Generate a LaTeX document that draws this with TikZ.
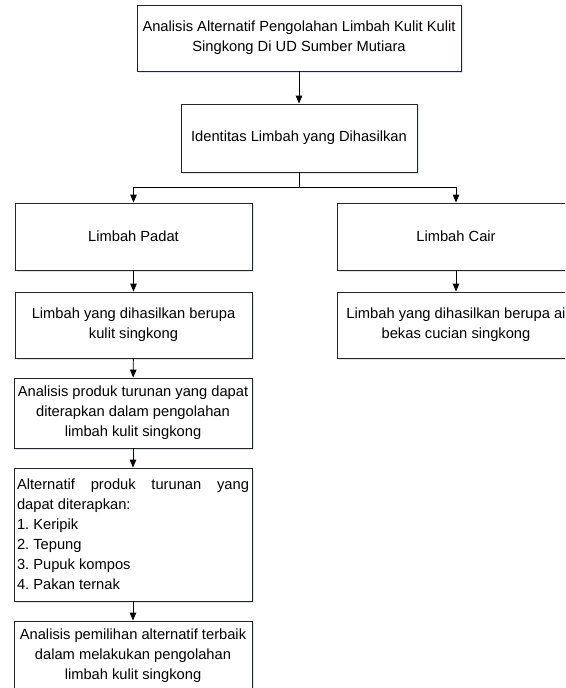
\documentclass[tikz,border=0pt]{standalone}
\usepackage{fontspec}
\setmainfont{Liberation Sans}
\usetikzlibrary{arrows.meta,shadows}
\definecolor{shadowblue}{HTML}{D5DFEA}
\frenchspacing
\begin{document}
\begin{tikzpicture}[x=1pt,y=-1pt,
  box/.style={draw=black!85, line width=0.9pt, fill=white, inner sep=2pt,
    align=center, font=\fontsize{14.7}{20}\selectfont,
    drop shadow={shadow xshift=2pt, shadow yshift=-2pt, fill=shadowblue, opacity=0.8}},
  arr/.style={draw=black, line width=0.9pt, -{Triangle[width=6.5pt,length=8pt]}},
  ln/.style={draw=black, line width=0.9pt}]
\useasboundingbox (0,0) rectangle (565,688);
\clip (0,0) rectangle (565,688);
\fill[white] (0,0) rectangle (565,688);
\node[box, minimum width=324pt, minimum height=66pt] (top) at (299,38)
  {Analisis Alternatif Pengolahan Limbah Kulit Kulit\\Singkong Di UD Sumber Mutiara};
\node[box, minimum width=236pt, minimum height=68pt] (ident) at (299,138)
  {Identitas Limbah yang Dihasilkan};
\node[box, minimum width=237pt, minimum height=67pt] (padat) at (133.5,236.5)
  {Limbah Padat};
\node[box, minimum width=238pt, minimum height=67pt] (cair) at (456,236.5)
  {Limbah Cair};
\node[box, minimum width=237pt, minimum height=66pt] (kulit) at (133.5,325)
  {Limbah yang dihasilkan berupa\\kulit singkong};
\node[box, minimum width=238pt, minimum height=66pt] (air) at (456,325)
  {Limbah yang dihasilkan berupa ai\\bekas cucian singkong};
\node[box, minimum width=238pt, minimum height=70pt] (anal) at (133,413)
  {Analisis produk turunan yang dapat\\diterapkan dalam pengolahan\\limbah kulit singkong};
\node[box, minimum width=238pt, minimum height=133pt, text width=232pt, align=justify] (alt) at (133,534.5)
  {\parindent=0pt\hyphenpenalty=10000\exhyphenpenalty=10000\tolerance=10000\frenchspacing
   Alternatif produk turunan yang dapat diterapkan:\par
   1. Keripik\par 2. Tepung\par 3. Pupuk kompos\par 4. Pakan ternak};
\node[box, minimum width=238pt, minimum height=70pt] (pilih) at (133,656)
  {Analisis pemilihan alternatif terbaik\\dalam melakukan pengolahan\\limbah kulit singkong};
\coordinate (j) at (299,187);
\draw[arr] (top) -- (ident);
\draw[ln] (ident) -- (j);
\draw[arr] (j) -| (padat);
\draw[arr] (j) -| (cair);
\draw[arr] (padat) -- (kulit);
\draw[arr] (cair) -- (air);
\draw[arr] (kulit) -- (anal);
\draw[arr] (anal) -- (alt);
\draw[arr] (alt) -- (pilih);
\end{tikzpicture}
\end{document}
